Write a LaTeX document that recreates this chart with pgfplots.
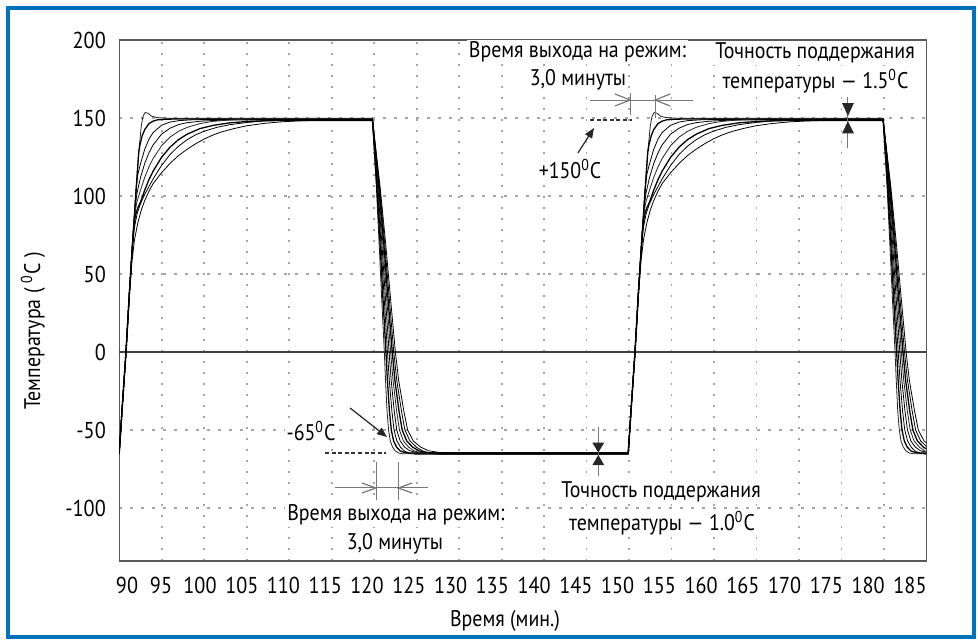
\documentclass[border=0pt]{standalone}
\usepackage{pgfplots}
\pgfplotsset{compat=1.18}
\usepackage{fontspec}
\setmainfont[FakeStretch=0.88]{PT Sans}
\usetikzlibrary{arrows.meta}
\definecolor{frameblue}{RGB}{0,114,188}
\definecolor{gridgray}{RGB}{165,165,165}
\definecolor{curve}{RGB}{35,35,35}
\definecolor{dimgray}{RGB}{120,120,120}
\newcommand{\annfont}{\fontsize{11.3}{13}\selectfont}
\begin{document}
\begin{tikzpicture}
\path[use as bounding box] (0,0) rectangle (489pt,320.5pt);
\draw[frameblue, line width=2pt] (4pt,2pt) rectangle (487pt,316.5pt);
\node[rotate=90, font=\fontsize{11.3}{13}\selectfont] at (16.5pt,155pt) {Температура ( \textsuperscript{0}C )};
\node[font=\fontsize{11.3}{13}\selectfont] at (252.5pt,10pt) {Время (мин.)};
\begin{axis}[
  at={(59.6pt,40pt)}, anchor=south west,
  scale only axis, width=403.65pt, height=260.5pt,
  xmin=90, xmax=185, ymin=-134, ymax=200,
  axis line style={draw=black!65, line width=0.6pt},
  xtick={90.92,94.92,99.51,104.43,109.33,114.25,119.16,124.08,129.00,133.90,138.82,143.74,148.65,153.57,158.49,163.39,168.31,173.23,178.14,183.06},
  xticklabels={90,95,100,105,110,115,120,125,130,135,140,145,150,155,160,165,170,175,180,185},
  minor xtick={95,100,105,110,115,120,125,130,135,140,145,150,155,160,165,170,175,180},
  ytick={-100,-50,0,50,100,150,200},
  xminorgrids=true, ymajorgrids=true,
  minor grid style={gridgray, line width=0.9pt, dash pattern=on 0.9pt off 4.6pt},
  major grid style={gridgray, line width=0.9pt, dash pattern=on 1.2pt off 4.3pt},
  major tick length=0pt, minor tick length=0pt,
  /pgf/number format/assume math mode=true,
  tick label style={font=\fontsize{11.5}{13}\selectfont, inner sep=0pt},
  yticklabel style={xshift=-6.5pt},
  xticklabel style={yshift=-8pt},
  cycle list={{curve, line width=0.65pt, line join=round, mark=none}},
]
\draw[black!75, line width=0.6pt] (axis cs:90,0) -- (axis cs:185,0);

% curve 0 (fastest, overshoot)
\addplot coordinates {(90,-65.3)(90.4,-32)(90.8,0)(91.2,38)(91.6,72)(92,105)(92.3,128)(92.6,145)(92.8,151)(93.05,153.5)(93.4,153)(93.8,151.2)(94.4,150.3)(95.5,149.9)(97,149.8)
(119.8,149.8)(120,130)(120.27,105)(120.6,68)(120.9,33)(121.2,0)(121.34,-18)(121.52,-38)(121.7,-50)(121.9,-57)(122.17,-61)(122.5,-63.5)(122.9,-64.8)(123.4,-65.3)
(149.9,-65.3)(150.3,-32)(150.7,0)(151.1,38)(151.5,72)(151.9,105)(152.2,128)(152.5,145)(152.7,151)(152.95,153.5)(153.3,153)(153.7,151.2)(154.3,150.3)(155.4,149.9)(156.9,149.8)
(179.9,149.8)(180.1,130)(180.37,105)(180.7,68)(181,33)(181.3,0)(181.44,-18)(181.62,-38)(181.8,-50)(182,-57)(182.27,-61)(182.6,-63.5)(183,-64.8)(183.5,-65.3)(185,-65.3)};
% curve 1
\addplot coordinates {(90,-64.8)(90.4,-32)(90.8,0)(91.2,38)(91.6,72)(92,105)(92.3,128)(92.45,133)(92.7,138.5)(93,142.5)(93.5,146.4)(94,148)(94.5,148.8)(95.5,149.2)(97,149.4)
(119.8,149.4)(120.03,130)(120.33,105)(120.71,68)(121.05,33)(121.39,0)(121.56,-18)(121.8,-38)(122.02,-50)(122.29,-57)(122.64,-61)(123.06,-63.4)(123.56,-64.4)(124.11,-64.8)
(149.9,-64.8)(150.3,-32)(150.7,0)(151.1,38)(151.5,72)(151.9,105)(152.2,128)(152.35,133)(152.6,138.5)(152.9,142.5)(153.4,146.4)(153.9,148)(154.4,148.8)(155.4,149.2)(156.9,149.4)
(179.9,149.4)(180.13,130)(180.43,105)(180.81,68)(181.15,33)(181.49,0)(181.66,-18)(181.9,-38)(182.12,-50)(182.39,-57)(182.74,-61)(183.16,-63.4)(183.66,-64.4)(184.21,-64.8)(185,-64.8)};
% curve 2
\addplot coordinates {(90,-65.5)(90.4,-32)(90.8,0)(91.2,38)(91.6,72)(92,105)(92.2,114)(92.5,120.5)(93,129.9)(93.5,136.4)(94,140.7)(95,145.4)(96,147.4)(97,148.3)(98.5,148.8)(100,149)
(119.8,149)(120.06,130)(120.4,105)(120.82,68)(121.2,33)(121.57,0)(121.78,-18)(122.09,-38)(122.34,-50)(122.67,-57)(123.12,-61.2)(123.61,-63.7)(124.21,-64.9)(124.83,-65.5)
(149.9,-65.5)(150.3,-32)(150.7,0)(151.1,38)(151.5,72)(151.9,105)(152.1,114)(152.4,120.5)(152.9,129.9)(153.4,136.4)(153.9,140.7)(154.9,145.4)(155.9,147.4)(156.9,148.3)(158.4,148.8)(159.9,149)
(179.9,149)(180.16,130)(180.5,105)(180.92,68)(181.3,33)(181.67,0)(181.88,-18)(182.19,-38)(182.44,-50)(182.77,-57)(183.22,-61.2)(183.71,-63.7)(184.31,-64.9)(184.93,-65.5)(185,-65.5)};
% curve 3
\addplot coordinates {(90,-64.6)(90.4,-32)(90.8,0)(91.2,38)(91.6,72)(91.85,92)(92.1,102)(92.5,111.7)(93,120.8)(93.5,127.6)(94,132.8)(95,139.7)(96,143.5)(97,145.8)(98,147)(99.5,147.9)(101,148.4)(103,148.7)
(119.8,148.7)(120.09,130)(120.46,105)(120.93,68)(121.35,33)(121.76,0)(122,-18)(122.37,-38)(122.66,-50)(123.06,-57)(123.59,-61)(124.17,-63.3)(124.87,-64.3)(125.54,-64.6)
(149.9,-64.6)(150.3,-32)(150.7,0)(151.1,38)(151.5,72)(151.75,92)(152,102)(152.4,111.7)(152.9,120.8)(153.4,127.6)(153.9,132.8)(154.9,139.7)(155.9,143.5)(156.9,145.8)(157.9,147)(159.4,147.9)(160.9,148.4)(162.9,148.7)
(179.9,148.7)(180.19,130)(180.56,105)(181.03,68)(181.45,33)(181.86,0)(182.1,-18)(182.47,-38)(182.76,-50)(183.16,-57)(183.69,-61)(184.27,-63.3)(184.97,-64.3)(185.64,-64.6)};
% curve 4
\addplot coordinates {(90,-65.1)(90.4,-32)(90.8,0)(91.2,38)(91.6,72)(91.8,87)(92.05,95.5)(92.5,103.7)(93,111.9)(93.5,118.6)(94,124.1)(95,132.3)(96,137.8)(97,141.5)(98,144)(99.5,146.4)(101,147.8)(103,148.7)(105,149.3)(107,149.6)
(119.8,149.6)(120.11,130)(120.53,105)(121.05,68)(121.5,33)(121.94,0)(122.22,-18)(122.65,-38)(122.98,-50)(123.44,-57)(124.06,-61)(124.73,-63.5)(125.53,-64.7)(126.26,-65.1)
(149.9,-65.1)(150.3,-32)(150.7,0)(151.1,38)(151.5,72)(151.7,87)(151.95,95.5)(152.4,103.7)(152.9,111.9)(153.4,118.6)(153.9,124.1)(154.9,132.3)(155.9,137.8)(156.9,141.5)(157.9,144)(159.4,146.4)(160.9,147.8)(162.9,148.7)(164.9,149.3)(166.9,149.6)
(179.9,149.6)(180.21,130)(180.63,105)(181.15,68)(181.6,33)(182.04,0)(182.32,-18)(182.75,-38)(183.08,-50)(183.54,-57)(184.16,-61)(184.83,-63.5)(185.63,-64.7)};
% curve 5
\addplot coordinates {(90,-64.9)(90.4,-32)(90.8,0)(91.2,38)(91.6,72)(91.75,82)(91.95,88.5)(92.2,92.5)(92.5,96)(93,103.7)(93.5,110.4)(94,116)(95,124.9)(96,131.4)(97,136.2)(98,139.6)(99.5,143.2)(101,145.2)(103,146.9)(105,147.7)(107,148.2)(109,148.4)
(119.8,148.4)(120.14,130)(120.59,105)(121.16,68)(121.65,33)(122.13,0)(122.44,-18)(122.93,-38)(123.3,-50)(123.83,-57)(124.53,-61)(125.29,-63.4)(126.19,-64.5)(126.97,-64.9)
(149.9,-64.9)(150.3,-32)(150.7,0)(151.1,38)(151.5,72)(151.65,82)(151.85,88.5)(152.1,92.5)(152.4,96)(152.9,103.7)(153.4,110.4)(153.9,116)(154.9,124.9)(155.9,131.4)(156.9,136.2)(157.9,139.6)(159.4,143.2)(160.9,145.2)(162.9,146.9)(164.9,147.7)(166.9,148.2)(168.9,148.4)
(179.9,148.4)(180.24,130)(180.69,105)(181.26,68)(181.75,33)(182.23,0)(182.54,-18)(183.03,-38)(183.4,-50)(183.93,-57)(184.63,-61)(185.39,-63.4)};
% curve 6
\addplot coordinates {(90,-65.6)(90.4,-32)(90.8,0)(91.2,38)(91.5,64)(91.8,80)(92.1,88.5)(92.5,95)(93,101)(93.5,106)(94,111)(95,119.7)(96,126.7)(97,132)(98,136.1)(99,139.2)(100,141.5)(101.5,144)(103,145.7)(105,147.1)(107,148.1)(109,148.6)(112,149)(115,149.2)
(119.8,149.2)(120.17,130)(120.66,105)(121.27,68)(121.8,33)(122.31,0)(122.66,-18)(123.22,-38)(123.62,-50)(124.21,-57)(125.01,-61.2)(125.84,-63.8)(126.84,-65.1)(127.69,-65.6)
(149.9,-65.6)(150.3,-32)(150.7,0)(151.1,38)(151.4,64)(151.7,80)(152,88.5)(152.4,95)(152.9,101)(153.4,106)(153.9,111)(154.9,119.7)(155.9,126.7)(156.9,132)(157.9,136.1)(158.9,139.2)(159.9,141.5)(161.4,144)(162.9,145.7)(164.9,147.1)(166.9,148.1)(168.9,148.6)(171.9,149)(174.9,149.2)
(179.9,149.2)(180.27,130)(180.76,105)(181.37,68)(181.9,33)(182.41,0)(182.76,-18)(183.32,-38)(183.72,-50)(184.31,-57)(185.11,-61.2)};
% curve 7 (slowest)
\addplot coordinates {(90,-64.7)(90.4,-32)(90.8,0)(91.2,36)(91.5,58)(91.8,72)(92.2,83)(92.6,91)(93,97)(93.5,103)(94,108)(95,115)(96,121)(97,126)(98,130)(99,133.5)(100,136.5)(101,139)(102,141)(103.5,143.2)(105,145)(107,146.5)(109,147.5)(111,148.1)(114,148.6)(118,148.9)
(119.8,148.9)(120.2,130)(120.72,105)(121.38,68)(121.95,33)(122.5,0)(122.88,-18)(123.5,-38)(123.94,-50)(124.6,-57)(125.48,-61)(126.4,-63.3)(127.5,-64.3)(128.4,-64.7)
(149.9,-64.7)(150.3,-32)(150.7,0)(151.1,36)(151.4,58)(151.7,72)(152.1,83)(152.5,91)(152.9,97)(153.4,103)(153.9,108)(154.9,115)(155.9,121)(156.9,126)(157.9,130)(158.9,133.5)(159.9,136.5)(160.9,139)(161.9,141)(163.4,143.2)(164.9,145)(166.9,146.5)(168.9,147.5)(170.9,148.1)(173.9,148.6)(177.9,148.9)
(179.9,148.9)(180.3,130)(180.82,105)(181.48,68)(182.05,33)(182.6,0)(182.98,-18)(183.6,-38)(184.04,-50)(184.7,-57)(185.58,-61)};

% ---- annotations: top ----
\node[fill=white, inner sep=1pt, font=\annfont] at (axis cs:143.93,192.3) {Время выхода на режим:};
\node[fill=white, inner sep=1pt, font=\annfont] at (axis cs:143.99,174.4) {3,0 минуты};
\node[fill=white, inner sep=1pt, font=\annfont] at (axis cs:171.88,191.7) {Точность поддержания};
\node[fill=white, inner sep=1pt, font=\annfont] at (axis cs:171.94,173.7) {температуры — 1.5\textsuperscript{0}C};
\draw[dimgray, line width=0.5pt] (axis cs:145.41,161.5) -- (axis cs:157.52,161.5);
\draw[dimgray, line width=0.5pt] (axis cs:150.12,166) -- (axis cs:150.12,151.9);
\draw[dimgray, line width=0.5pt] (axis cs:153.06,164.7) -- (axis cs:153.06,150);
\draw[dimgray, line width=0.6pt] (axis cs:148.35,165.4) -- (axis cs:150.12,161.5) -- (axis cs:148.35,157.7);
\draw[dimgray, line width=0.6pt] (axis cs:154.83,165.4) -- (axis cs:153.06,161.5) -- (axis cs:154.83,157.7);
\draw[black!80, line width=1pt, dash pattern=on 2pt off 1.3pt] (axis cs:145.4,149) -- (axis cs:150.4,149);
\node[fill=white, inner sep=1pt, font=\annfont] at (axis cs:143.05,117.3) {+150\textsuperscript{0}C};
\draw[black!85, line width=0.6pt, -{Triangle[length=5pt,width=4pt]}] (axis cs:143.99,127.6) -- (axis cs:145.87,143.6);
\draw[dimgray, line width=0.5pt] (axis cs:175.76,163.5) -- (axis cs:175.76,130.8);
\fill[black!85] (axis cs:175.06,159.6) -- (axis cs:176.46,159.6) -- (axis cs:175.76,151.3) -- cycle;
\fill[black!85] (axis cs:175.76,147.9) -- (axis cs:175.06,140.2) -- (axis cs:176.46,140.2) -- cycle;
% ---- annotations: bottom ----
\node[fill=white, inner sep=1pt, font=\annfont] at (axis cs:112.57,-50.6) {-65\textsuperscript{0}C};
\draw[black!85, line width=0.6pt, -{Triangle[length=5pt,width=4pt]}] (axis cs:117.16,-35.9) -- (axis cs:121.51,-54.5);
\draw[black!80, line width=1pt, dash pattern=on 2pt off 1.3pt] (axis cs:114.22,-65) -- (axis cs:121.4,-65);
\draw[dimgray, line width=0.5pt] (axis cs:120.22,-70.5) -- (axis cs:120.22,-94.9);
\draw[dimgray, line width=0.5pt] (axis cs:122.84,-70.5) -- (axis cs:122.84,-94.9);
\draw[dimgray, line width=0.5pt] (axis cs:115.4,-87.2) -- (axis cs:126.34,-87.2);
\draw[dimgray, line width=0.6pt] (axis cs:118.57,-84.0) -- (axis cs:120.22,-87.2) -- (axis cs:118.57,-90.4);
\draw[dimgray, line width=0.6pt] (axis cs:124.49,-84.0) -- (axis cs:122.84,-87.2) -- (axis cs:124.49,-90.4);
\node[fill=white, inner sep=1pt, font=\annfont] at (axis cs:122.57,-104.5) {Время выхода на режим:};
\node[fill=white, inner sep=1pt, font=\annfont] at (axis cs:122.45,-123.1) {3,0 минуты};
\node[fill=white, inner sep=1pt, font=\annfont] at (axis cs:153.76,-89.7) {Точность поддержания};
\node[fill=white, inner sep=1pt, font=\annfont] at (axis cs:153.88,-109.6) {температуры — 1.0\textsuperscript{0}C};
\draw[dimgray, line width=0.5pt] (axis cs:146.38,-48.1) -- (axis cs:146.38,-79.5);
\fill[black!85] (axis cs:145.68,-58.1) -- (axis cs:147.08,-58.1) -- (axis cs:146.38,-64.5) -- cycle;
\fill[black!85] (axis cs:146.38,-66.0) -- (axis cs:145.68,-72.6) -- (axis cs:147.08,-72.6) -- cycle;
\end{axis}
\end{tikzpicture}
\end{document}
